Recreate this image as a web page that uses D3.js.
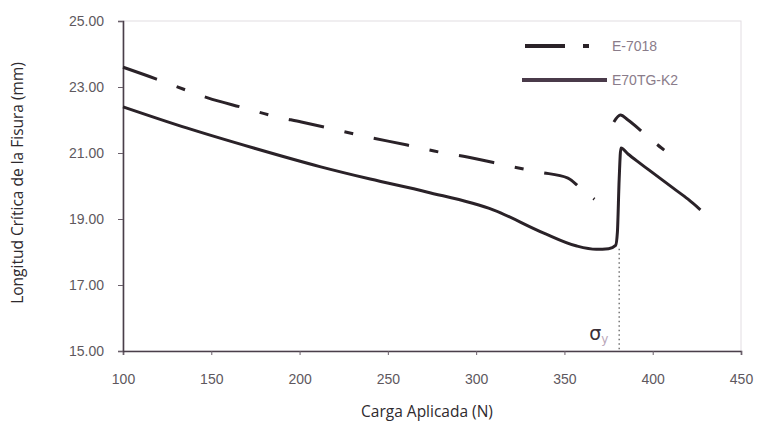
<!DOCTYPE html>
<html>
<head>
<meta charset="utf-8">
<script src="https://cdn.jsdelivr.net/npm/d3@7"></script>
<style>
  body { margin: 0; background: #fff; }
  svg { display: block; }
</style>
</head>
<body>
<div id="chart"></div>
<script>
// Data: load (N) and critical crack length (mm)
const solidCarga = [100, 136, 174, 212, 240, 272, 310, 338, 357, 368, 375, 379, 380, 381, 382, 386, 391, 398, 405, 412, 420, 427];
const solidLong  = [22.4, 21.76, 21.15, 20.58, 20.21, 19.82, 19.27, 18.58, 18.18, 18.08, 18.1, 18.2, 18.6, 20.2, 21.15, 20.97, 20.76, 20.48, 20.2, 19.92, 19.6, 19.28];

// null = break in the dashed curve
const dashCarga = [100, 119, 134, 148, 169, 185, 201, 239, 261, 279, 295, 321, 336, 352, 359, 367, null, 378, 381.7, 386, 395, 405, 416];
const dashLong  = [23.6, 23.24, 22.94, 22.67, 22.36, 22.12, 21.94, 21.48, 21.24, 21.03, 20.88, 20.58, 20.42, 20.24, 19.94, 19.6, null, 21.94, 22.15, 22.0, 21.6, 21.15, 20.73];

const xTicks = [100, 150, 200, 250, 300, 350, 400, 450];
const yTicks = [15, 17, 19, 21, 23, 25];
const seriesNames = ["E-7018", "E70TG-K2"];
const sigmaCarga = 381;
const sigmaTop = 18.1;

const margin = { top: 21, right: 19, bottom: 77, left: 123 };
const width  = 760 - margin.left - margin.right;
const height = 428 - margin.top - margin.bottom;
const ink = "#2a2228";

const svg = d3.select("#chart")
    .append("svg")
    .attr("width", 760)
    .attr("height", 428)
    .append("g")
    .attr("transform", `translate(${margin.left},${margin.top})`);

const x = d3.scaleLinear().domain([100, 450]).range([0, width]);
const y = d3.scaleLinear().domain([15, 25]).range([height, 0]);

// faint frame
svg.append("rect")
    .attr("width", width)
    .attr("height", height)
    .attr("fill", "none")
    .attr("stroke", "#e2dde2")
    .attr("stroke-width", 1);

const xAxis = svg.append("g")
    .attr("transform", `translate(0,${height})`)
    .call(d3.axisBottom(x).tickValues(xTicks).tickSize(4).tickPadding(19));
const yAxis = svg.append("g")
    .call(d3.axisLeft(y).tickValues(yTicks).tickFormat(d3.format(".2f")).tickSize(5).tickPadding(14));

[xAxis, yAxis].forEach(a => {
    a.select(".domain").attr("stroke", "#4a3f4a").attr("stroke-width", 1.6);
    a.selectAll(".tick line").attr("stroke", "#6a5f6a");
    a.selectAll("text")
        .attr("fill", "#5e585e")
        .style("font-family", "Liberation Sans, Arial, sans-serif")
        .style("font-size", "14px");
});

// sigma_y marker
svg.append("line")
    .attr("x1", x(sigmaCarga)).attr("x2", x(sigmaCarga))
    .attr("y1", y(sigmaTop)).attr("y2", height)
    .attr("stroke", "#555")
    .attr("stroke-width", 1.2)
    .attr("stroke-dasharray", "1.5,3");

const sig = svg.append("text")
    .attr("x", x(sigmaCarga) - 30)
    .attr("y", height - 11)
    .style("font-family", "DejaVu Sans, sans-serif")
    .attr("fill", "#3a3038");
sig.append("tspan").text("σ").style("font-size", "19px");
sig.append("tspan").text("y").attr("dy", 3).attr("fill", "#b9a6b9").style("font-size", "12px");

const solidData = solidCarga.map((c, i) => ({ c, v: solidLong[i] }));
const dashData = dashCarga.map((c, i) => ({ c, v: dashLong[i] }));

const line = d3.line()
    .defined(d => d.c !== null)
    .x(d => x(d.c))
    .y(d => y(d.v))
    .curve(d3.curveMonotoneX);

svg.append("path")
    .datum(dashData)
    .attr("fill", "none")
    .attr("stroke", ink)
    .attr("stroke-width", 3)
    .attr("stroke-dasharray", "36,21,9,21")
    .attr("d", line);

svg.append("path")
    .datum(solidData)
    .attr("fill", "none")
    .attr("stroke", ink)
    .attr("stroke-width", 3)
    .attr("stroke-linejoin", "round")
    .attr("d", line);

// legend
const legend = svg.append("g").attr("transform", `translate(${525 - margin.left},${46 - margin.top})`);
legend.append("line")
    .attr("x1", 0).attr("x2", 64).attr("y1", 0).attr("y2", 0)
    .attr("stroke", ink).attr("stroke-width", 4)
    .attr("stroke-dasharray", "40,18,6,40");
legend.append("line")
    .attr("x1", -3).attr("x2", 82).attr("y1", 34).attr("y2", 34)
    .attr("stroke", "#4a3a4a").attr("stroke-width", 4);
legend.selectAll("text")
    .data(seriesNames)
    .enter()
    .append("text")
    .attr("x", 87)
    .attr("y", (d, i) => i * 34 + 5)
    .text(d => d)
    .attr("fill", "#8a7c8a")
    .style("font-family", "Liberation Sans, Arial, sans-serif")
    .style("font-size", "14px");

// axis titles
svg.append("text")
    .attr("x", width / 2 - 5)
    .attr("y", height + 66)
    .attr("text-anchor", "middle")
    .attr("fill", "#2e2a2e")
    .style("font-family", "Open Sans, sans-serif")
    .style("font-size", "15.5px")
    .text("Carga Aplicada (N)");

svg.append("text")
    .attr("transform", "rotate(-90)")
    .attr("x", -height / 2 + 3)
    .attr("y", -100)
    .attr("text-anchor", "middle")
    .attr("fill", "#2e2a2e")
    .style("font-family", "Open Sans, sans-serif")
    .style("font-size", "15.5px")
    .text("Longitud Crítica de la Fisura (mm)");
</script>
</body>
</html>
